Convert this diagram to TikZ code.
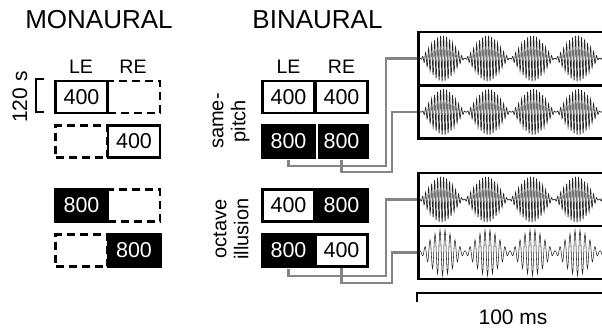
\documentclass[tikz,border=0pt]{standalone}
\usepackage{fontspec}
\setmainfont{Liberation Sans}
\begin{document}
\begin{tikzpicture}[x=1pt,y=-1pt,
  cell/.style={minimum width=52pt,minimum height=32pt,inner sep=0pt,line width=2.8pt,
    font=\fontsize{21.5}{23}\selectfont},
  wbox/.style={cell,draw=black,fill=white},
  dbox/.style={cell,draw=black,fill=white,dash pattern=on 8pt off 5pt},
  bbox/.style={cell,fill=black,text=white},
  title/.style={font=\fontsize{26}{28}\selectfont},
  ear/.style={font=\fontsize{19.5}{21}\selectfont},
  side/.style={font=\fontsize{20}{22}\selectfont,rotate=90,align=center},
  wavebox/.style={draw=black,line width=2.8pt,minimum width=190pt,minimum height=53pt,inner sep=0pt},
  conn/.style={draw=black!48,line width=2.6pt},
  wave/.style={draw=black!85,line width=0.65pt}]
\useasboundingbox (0,0) rectangle (602,330);

% titles
\node[title] (tmon) at (99,20) {MONAURAL};
\node[title] (tbin) at (317.5,20) {BINAURAL};

% ear labels
\node[ear] (mle) at (81,67) {LE};
\node[ear] (mre) at (133,67) {RE};
\node[ear] (ble) at (288.5,67) {LE};
\node[ear] (bre) at (341.5,67) {RE};

% 120 s scale
\node[side,font=\fontsize{21}{23}\selectfont] (tsec) at (20,97) {120 s};
\draw[line width=2.8pt] (44,79) -- (36,79) -- (36,112) -- (44,112);

% monaural boxes
\node[dbox] (m1r) at (134,97) {};
\node[wbox] (m1l) at (81.5,97) {400};
\node[dbox] (m2l) at (81.5,141.5) {};
\node[wbox] (m2r) at (134,141.5) {400};
\node[dbox] (m3r) at (134,205.5) {};
\node[bbox,minimum width=55pt,minimum height=35pt] (m3l) at (81.5,205.5) {800};
\node[dbox] (m4l) at (81.5,250.5) {};
\node[bbox,minimum width=55pt,minimum height=35pt] (m4r) at (134,250.5) {800};

% binaural boxes
\node[wbox] (b1l) at (288.5,97) {400};
\node[wbox] (b1r) at (341.5,97) {400};
\node[bbox,minimum width=55pt,minimum height=35pt] (b2l) at (288.5,141.5) {800};
\node[bbox,minimum width=55pt,minimum height=35pt] (b2r) at (341.5,141.5) {800};
\draw[white,line width=2pt] (b2l.north east) -- (b2l.south east);
\node[wbox] (b3l) at (288.5,205.5) {400};
\node[bbox,minimum width=55pt,minimum height=35pt] (b3r) at (341.5,205.5) {800};
\node[bbox,minimum width=55pt,minimum height=35pt] (b4l) at (288.5,250.5) {800};
\node[wbox] (b4r) at (341.5,250.5) {400};

% side labels
\node[side] (tsame) at (231,121) {same-\\pitch};
\node[side] (toct) at (231,229) {octave\\illusion};

% waveform boxes
\node[wavebox,anchor=west] (w1) at (417,58.5) {};
\node[wavebox,anchor=west] (w2) at (417,112) {};
\node[wavebox,anchor=west] (w3) at (417,199.5) {};
\node[wavebox,anchor=west] (w4) at (417,252.5) {};

% waveforms
\draw[wave] plot[domain=419:605,samples=621,variable=\t]
  (\t,{58.5-23*pow(abs(sin(4*(\t-420))),1.4)*sin(120*mod(\t-419,3)+18)});
\draw[wave] plot[domain=419:605,samples=621,variable=\t]
  (\t,{112-23*pow(abs(sin(4*(\t-421))),1.4)*sin(120*mod(\t-419,3)+18)});
\draw[wave] plot[domain=419:605,samples=621,variable=\t]
  (\t,{199.5-23*pow(abs(sin(4*(\t-419))),1.4)*sin(120*mod(\t-419,3)+18)});
\draw[wave,line width=0.55pt] plot[domain=419:605,samples=373,variable=\t]
  (\t,{252.5-23*(0.07+0.93*pow(abs(sin(4*(\t-420))),1.5))*sin(72*mod(\t-419,5)+18)});

% connectors
\draw[conn] (b2l.south) |- (386,166) |- (w1.west);
\draw[conn] (b2r.south) |- (392,172) |- (w2.west);
\draw[conn] (b4l.south) |- (386,276) |- (w3.west);
\draw[conn] (b4r.south) |- (392,283) |- (w4.west);

% time scale
\coordinate (sbR) at (610,293);
\coordinate (sbT) at (417,302);
\draw[line width=2.8pt] (sbT) |- (sbR);
\node[font=\fontsize{21}{23}\selectfont] (tms) at (513,317) {100 ms};
\end{tikzpicture}
\end{document}
